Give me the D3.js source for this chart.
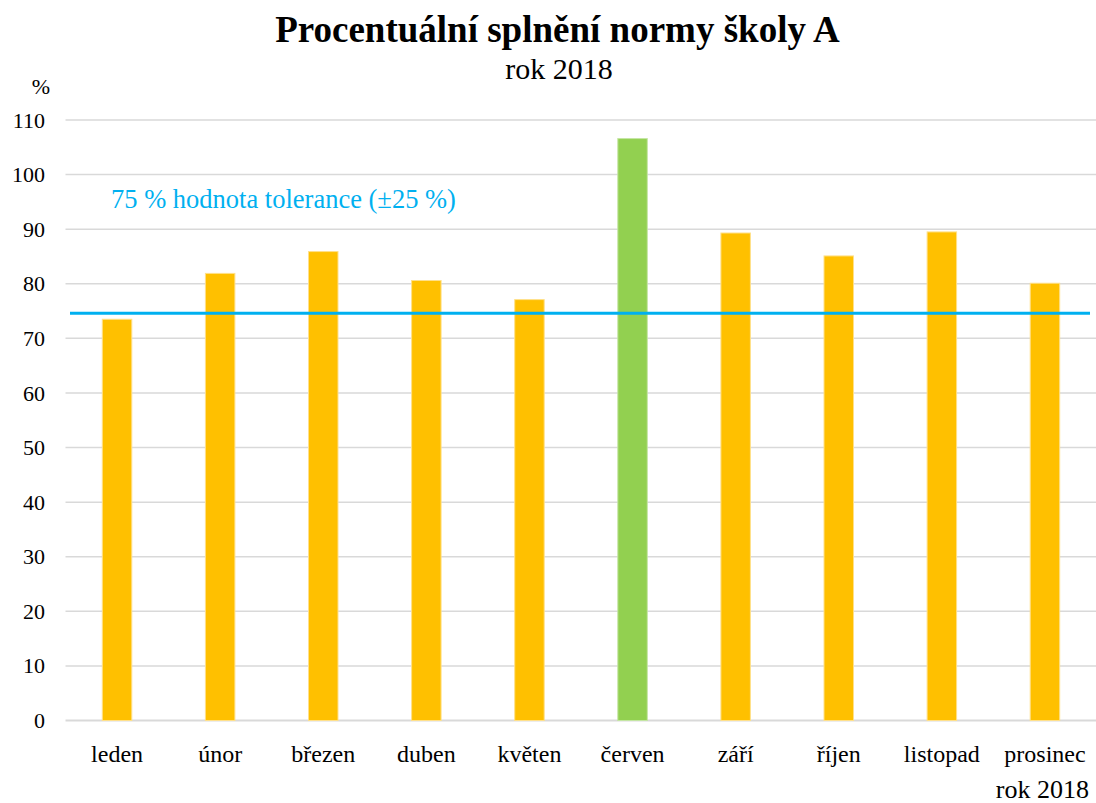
<!DOCTYPE html>
<html>
<head>
<meta charset="utf-8">
<script src="https://cdn.jsdelivr.net/npm/d3@7"></script>
<style>
  html, body { margin: 0; padding: 0; background: #fff; }
  svg { display: block; }
</style>
</head>
<body>
<svg id="chart" width="1096" height="803"></svg>
<script>
const months = ["leden", "únor", "březen", "duben", "květen", "červen", "září", "říjen", "listopad", "prosinec"];
const values = [73.5, 81.9, 85.9, 80.6, 77.1, 106.6, 89.3, 85.1, 89.5, 80.1];
const highlight = ["červen"];
const yTicks = [0, 10, 20, 30, 40, 50, 60, 70, 80, 90, 100, 110];
const toleranceValue = 74.6;
const titleText = "Procentuální splnění normy školy A";
const subtitleText = "rok 2018";
const axisTitleY = "%";
const axisTitleX = "rok 2018";
const toleranceLabel = "75 % hodnota tolerance (±25 %)";

const FONT = "Liberation Serif";
const svg = d3.select("#chart");
const plotLeft = 65.5, plotRight = 1096.5, plotTop = 120, plotBottom = 720.5;

const x = d3.scaleBand().domain(months).range([plotLeft, plotRight]).paddingInner(0.714).paddingOuter(0.357);
const y = d3.scaleLinear().domain([0, 110]).range([plotBottom, plotTop]);

// gridlines
svg.append("g").selectAll("line").data(yTicks).join("line")
  .attr("x1", plotLeft).attr("x2", plotRight)
  .attr("y1", d => y(d)).attr("y2", d => y(d))
  .attr("stroke", "#d9d9d9").attr("stroke-width", d => d === 0 ? 2 : 1.5);

// y tick labels
const yAxis = d3.axisLeft(y).tickValues(yTicks).tickSize(0).tickPadding(0);
const yg = svg.append("g").attr("transform", `translate(45,0)`).call(yAxis);
yg.select(".domain").remove();
yg.selectAll("text").style("font-family", FONT).style("font-size", "22px").attr("fill", "#000");

// bars
svg.append("g").selectAll("rect").data(values).join("rect")
  .attr("x", (d, i) => x(months[i]))
  .attr("width", x.bandwidth())
  .attr("y", d => y(d))
  .attr("height", d => y(0) - y(d))
  .attr("fill", (d, i) => highlight.includes(months[i]) ? "#92d050" : "#ffc000")
  .attr("stroke", (d, i) => highlight.includes(months[i]) ? "#c4e6a3" : "#ffe08a")
  .attr("stroke-width", 1);

// tolerance line
svg.append("line")
  .attr("x1", 70).attr("x2", 1090)
  .attr("y1", y(toleranceValue)).attr("y2", y(toleranceValue))
  .attr("stroke", "#00b0f0").attr("stroke-width", 3);

svg.append("text").attr("x", 111).attr("y", 208)
  .style("font-family", FONT).style("font-size", "26.5px").attr("fill", "#00b0f0").text(toleranceLabel);

// x labels
const xAxis = d3.axisBottom(x).tickSize(0).tickPadding(0);
const xg = svg.append("g").attr("transform", `translate(0,${plotBottom})`).call(xAxis);
xg.select(".domain").remove();
xg.selectAll("text").style("font-family", FONT).style("font-size", "24px").attr("fill", "#000")
  .attr("dy", null).attr("y", 41);

// titles
svg.append("text").attr("x", 557.5).attr("y", 42).attr("text-anchor", "middle")
  .style("font-family", FONT).style("font-size", "37px").style("font-weight", "bold").text(titleText);
svg.append("text").attr("x", 559).attr("y", 79).attr("text-anchor", "middle")
  .style("font-family", FONT).style("font-size", "30px").text(subtitleText);
svg.append("text").attr("x", 41).attr("y", 94).attr("text-anchor", "middle")
  .style("font-family", FONT).style("font-size", "22px").text(axisTitleY);
svg.append("text").attr("x", 1089).attr("y", 798).attr("text-anchor", "end")
  .style("font-family", FONT).style("font-size", "26px").text(axisTitleX);
</script>
</body>
</html>
